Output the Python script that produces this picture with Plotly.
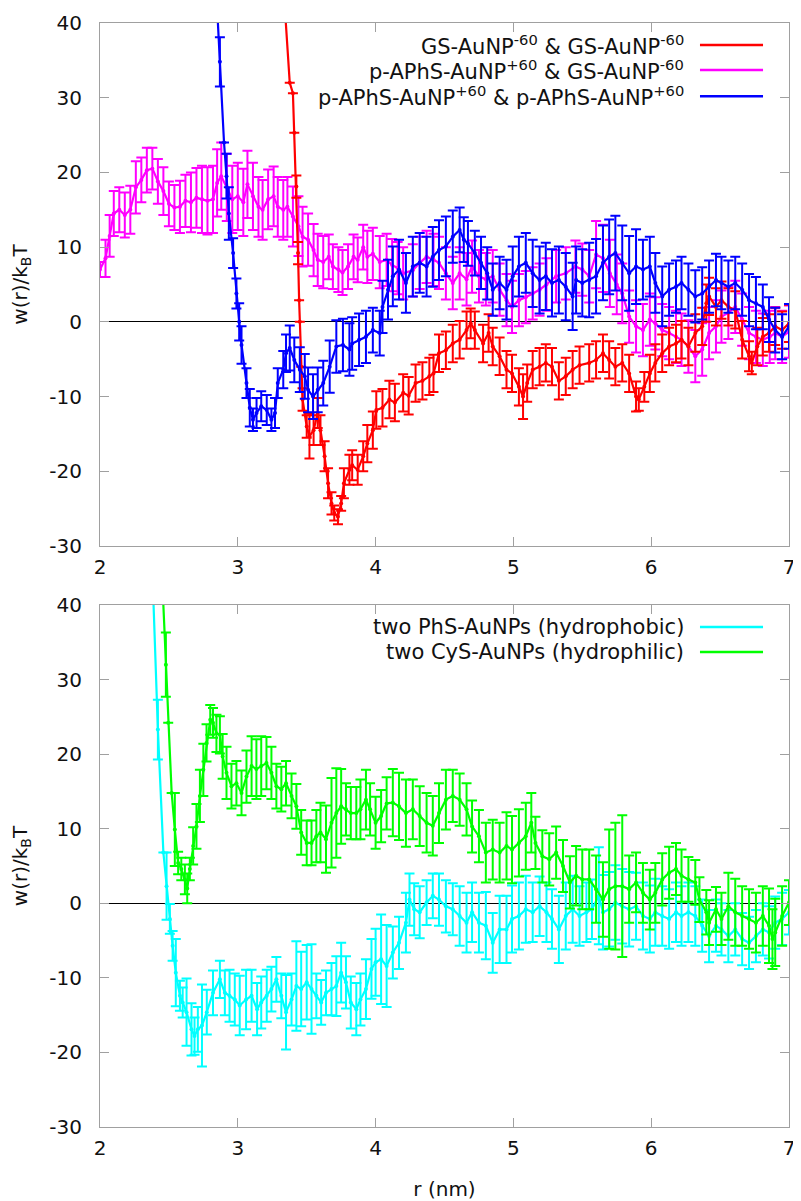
import plotly.graph_objects as go

# ---------------- top panel data ----------------
r_gs_gs = [3.345, 3.377, 3.40, 3.41, 3.425, 3.437, 3.445, 3.45, 3.46, 3.47, 3.50, 3.52, 3.55, 3.58, 3.60, 3.63,
           3.655, 3.68, 3.70, 3.727, 3.75, 3.77, 3.81, 3.83, 3.87, 3.91, 3.94, 3.98, 4.005, 4.05, 4.10, 4.14,
           4.20, 4.24, 4.29, 4.34, 4.39, 4.42, 4.46, 4.51, 4.56, 4.61, 4.66, 4.69, 4.72, 4.78, 4.82, 4.85,
           4.90, 4.95, 4.99, 5.04, 5.07, 5.10, 5.14, 5.19, 5.235, 5.28, 5.33, 5.38, 5.43, 5.48, 5.55, 5.60,
           5.65, 5.695, 5.74, 5.79, 5.84, 5.89, 5.91, 5.95, 5.99, 6.03, 6.08, 6.13, 6.18, 6.22, 6.27, 6.32,
           6.37, 6.40, 6.42, 6.47, 6.51, 6.56, 6.61, 6.66, 6.71, 6.73, 6.77, 6.81, 6.855, 6.90, 6.95, 7.00]
w_gs_gs = [41.0, 32.0, 30.6, 25.3, 18.1, 9.2, 2.9, 0.0, -6.0, -10.4, -14.0, -15.3, -14.5, -12.2, -14.5, -18.0,
           -21.6, -24.3, -25.6, -26.1, -24.3, -21.6, -19.8, -19.2, -19.8, -18.0, -16.3, -14.5, -11.8, -11.5, -10.4, -10.8,
           -9.5, -9.9, -8.2, -7.9, -7.3, -6.9, -4.2, -3.8, -2.9, -2.4, -1.1, -0.2, -1.1, -2.9, -1.5, -3.3,
           -4.6, -6.4, -6.9, -8.7, -10.0, -8.2, -6.4, -6.0, -5.5, -6.0, -7.9, -7.3, -6.4, -5.8, -5.5, -5.1,
           -4.2, -5.1, -6.0, -5.5, -6.9, -10.0, -10.4, -8.7, -6.9, -5.5, -4.2, -3.3, -2.9, -2.4, -3.3, -1.5,
           -0.6, 2.5, 3.4, 2.0, 2.9, 2.0, 1.6, -2.4, -4.6, -5.5, -3.3, -2.0, -1.5, -0.6, -1.1, -0.2]
e_gs_gs = [None, None, None, None, 1.5, 1.5, None, None, None, 1.5, 1.5, 3.0, 2.0, 2.0, 2.0, 2.0,
           2.0, 1.5, 1.0, 1.0, 1.0, 2.0, 2.0, 2.0, 2.0, 2.0, 2.5, 2.5, 2.5, 2.5, 2.5, 2.5,
           2.5, 2.5, 2.5, 2.5, 2.5, 2.5, 2.5, 2.5, 2.5, 2.5, 2.5, 2.0, 2.5, 2.5, 2.5, 2.5,
           2.5, 2.5, 2.5, 2.5, 3.0, 2.5, 2.5, 2.5, 2.5, 2.5, 2.5, 2.5, 2.5, 2.5, 2.5, 2.5,
           2.5, 2.5, 2.5, 2.5, 2.5, 2.0, 1.5, 2.0, 2.5, 2.5, 2.5, 2.5, 2.5, 2.5, 2.5, 2.5,
           2.5, 2.5, 2.5, 2.5, 2.5, 2.5, 2.5, 2.5, 2.0, 1.5, 2.5, 2.5, 2.5, 2.5, 2.5, 2.5]

r_pa_gs = [2.00, 2.04, 2.07, 2.10, 2.14, 2.18, 2.22, 2.26, 2.30, 2.34, 2.38, 2.42, 2.46, 2.50, 2.54, 2.58,
           2.62, 2.66, 2.70, 2.74, 2.78, 2.82, 2.85, 2.88, 2.92, 2.96, 3.00, 3.04, 3.07, 3.11, 3.15, 3.18,
           3.22, 3.26, 3.29, 3.33, 3.36, 3.40, 3.44, 3.47, 3.51, 3.55, 3.58, 3.62, 3.66, 3.69, 3.73, 3.76,
           3.80, 3.84, 3.87, 3.91, 3.94, 3.98, 4.03, 4.08, 4.12, 4.16, 4.20, 4.27, 4.32, 4.37, 4.42, 4.46,
           4.51, 4.56, 4.61, 4.66, 4.70, 4.75, 4.80, 4.85, 4.90, 4.95, 4.99, 5.04, 5.09, 5.14, 5.19, 5.24,
           5.31, 5.38, 5.45, 5.50, 5.55, 5.60, 5.65, 5.70, 5.75, 5.79, 5.84, 5.89, 5.94, 5.99, 6.03, 6.08,
           6.13, 6.18, 6.22, 6.27, 6.32, 6.37, 6.42, 6.47, 6.51, 6.56, 6.61, 6.66, 6.71, 6.76, 6.81, 6.86,
           6.90, 6.95, 7.00]
w_pa_gs = [7.0, 8.5, 11.5, 14.5, 15.0, 14.3, 15.0, 18.0, 19.0, 20.3, 20.5, 18.8, 17.5, 15.8, 15.3, 15.4,
           16.2, 16.0, 16.6, 16.4, 16.2, 16.4, 18.6, 19.5, 18.0, 16.4, 16.8, 16.0, 18.4, 16.8, 15.4, 15.0,
           16.4, 16.8, 15.4, 15.0, 15.4, 14.1, 12.8, 11.4, 11.0, 9.6, 8.3, 8.0, 8.7, 7.4, 7.0, 6.6,
           7.4, 8.7, 8.3, 10.0, 8.7, 9.1, 8.0, 8.3, 7.6, 7.2, 6.5, 6.9, 7.9, 8.7, 8.3, 7.9,
           6.5, 5.2, 6.5, 5.7, 7.4, 6.1, 5.7, 6.1, 4.3, 2.9, 2.0, 2.9, 3.3, 3.8, 4.3, 5.0,
           6.1, 6.5, 7.4, 7.0, 6.1, 9.0, 8.5, 6.5, 5.0, 3.8, 0.7, -0.6, -1.1, 0.3, -0.2, -1.1,
           -1.5, -2.0, -2.4, -3.3, -4.6, -3.7, -1.5, -0.6, 0.7, 1.2, 2.0, 0.3, -1.5, -2.0, -2.4, -2.0,
           -1.5, -2.0, -1.3]
e_pa_gs = [1.0, 2.5, 2.8, 3.0, 3.0, 3.0, 3.2, 3.5, 3.0, 3.0, 2.8, 3.0, 3.2, 3.0, 3.0, 3.5,
           3.5, 4.0, 4.0, 4.5, 4.5, 4.5, 4.5, 4.5, 4.5, 4.5, 4.5, 4.5, 4.5, 4.5, 4.0, 4.0,
           4.0, 4.0, 4.0, 4.0, 4.0, 4.0, 4.0, 4.0, 3.5, 3.5, 3.5, 3.5, 3.0, 3.0, 3.0, 3.0,
           3.0, 3.0, 3.0, 3.0, 3.5, 3.5, 3.5, 3.5, 3.5, 3.5, 3.5, 3.5, 3.5, 3.5, 3.5, 3.5,
           3.5, 3.5, 3.5, 3.5, 3.5, 3.5, 3.5, 3.5, 3.5, 3.5, 3.5, 3.5, 3.5, 3.5, 3.5, 3.5,
           3.5, 3.5, 3.5, 3.5, 3.5, 4.5, 4.5, 4.5, 4.0, 4.0, 3.5, 3.5, 3.5, 3.5, 3.5, 3.5,
           3.5, 3.5, 3.5, 3.5, 3.5, 3.5, 3.5, 3.5, 3.5, 3.5, 3.5, 3.5, 3.5, 3.5, 3.5, 3.5,
           3.5, 3.5, 3.5]

r_pa_pa = [2.85, 2.87, 2.90, 2.918, 2.935, 2.966, 2.99, 3.01, 3.027, 3.063, 3.087, 3.11, 3.136, 3.17, 3.21, 3.244,
           3.27, 3.29, 3.33, 3.35, 3.377, 3.41, 3.45, 3.486, 3.51, 3.546, 3.58, 3.62, 3.667, 3.715, 3.763, 3.81,
           3.83, 3.88, 3.93, 3.98, 4.03, 4.05, 4.09, 4.125, 4.17, 4.22, 4.27, 4.32, 4.37, 4.415, 4.46, 4.51,
           4.56, 4.61, 4.64, 4.67, 4.72, 4.765, 4.81, 4.85, 4.90, 4.95, 4.995, 5.04, 5.09, 5.14, 5.19, 5.235,
           5.28, 5.33, 5.38, 5.43, 5.455, 5.50, 5.55, 5.60, 5.65, 5.695, 5.74, 5.79, 5.84, 5.89, 5.94, 5.99,
           6.03, 6.08, 6.13, 6.18, 6.22, 6.27, 6.32, 6.37, 6.42, 6.47, 6.51, 6.56, 6.61, 6.66, 6.71, 6.76,
           6.81, 6.855, 6.90, 6.95, 7.00]
w_pa_pa = [42.0, 34.8, 24.0, 19.5, 14.5, 9.2, 3.8, 0.0, -3.1, -8.2, -11.5, -13.1, -12.2, -11.3, -11.8, -13.1,
           -12.2, -8.2, -6.4, -4.2, -3.5, -5.1, -6.4, -7.3, -9.1, -10.0, -9.1, -8.2, -6.0, -3.3, -3.1, -3.7,
           -2.9, -2.4, -2.0, -1.1, -1.5, 2.0, 4.3, 6.1, 7.0, 5.2, 7.4, 7.9, 7.4, 8.7, 9.6, 10.1,
           11.4, 12.3, 11.0, 10.5, 9.2, 7.9, 6.5, 4.3, 5.2, 4.3, 6.1, 7.4, 7.9, 6.5, 5.6, 6.1,
           5.2, 5.6, 4.7, 3.4, 5.6, 5.2, 5.6, 6.1, 7.9, 8.7, 9.2, 7.9, 6.5, 7.4, 7.0, 7.4,
           5.2, 3.4, 4.3, 4.7, 5.2, 4.3, 3.4, 3.8, 4.7, 5.6, 5.2, 4.7, 5.2, 4.3, 2.9, 2.5,
           2.0, 0.3, -1.1, -2.0, -0.6]
e_pa_pa = [None, 3.3, None, 3.0, 3.5, 2.0, 2.0, 2.5, 2.5, 2.0, 2.5, 1.5, 2.0, 2.0, 2.0, 1.5,
           2.0, 2.0, 2.5, 2.5, 3.0, 3.0, 3.0, 3.0, 3.0, 3.0, 3.0, 3.0, 3.5, 3.5, 3.5, 3.5,
           3.5, 3.5, 3.5, 3.0, 3.0, 3.5, 4.0, 4.0, 4.0, 4.0, 4.0, 4.0, 4.0, 4.0, 4.0, 4.0,
           3.5, 3.0, 3.0, 3.0, 3.0, 3.5, 3.5, 3.5, 3.5, 4.0, 4.0, 4.0, 4.0, 4.5, 4.5, 4.5,
           4.5, 4.5, 4.5, 4.5, 4.5, 4.5, 5.0, 5.0, 5.0, 5.0, 5.0, 5.0, 5.0, 5.0, 4.0, 4.0,
           4.0, 4.0, 3.5, 3.5, 3.5, 3.5, 3.5, 3.5, 3.5, 3.5, 3.5, 3.5, 3.5, 3.5, 3.5, 3.5,
           3.0, 3.0, 3.0, 3.0, 3.0]

# ---------------- bottom panel data ----------------
r_phs = [2.385, 2.42, 2.46, 2.483, 2.507, 2.527, 2.55, 2.58, 2.60, 2.628, 2.664, 2.686, 2.71, 2.74, 2.775, 2.82,
         2.87, 2.906, 2.94, 2.978, 3.014, 3.06, 3.10, 3.14, 3.17, 3.21, 3.244, 3.28, 3.316, 3.35, 3.39, 3.425,
         3.46, 3.50, 3.535, 3.57, 3.605, 3.64, 3.68, 3.715, 3.75, 3.785, 3.82, 3.86, 3.89, 3.93, 3.97, 4.00,
         4.04, 4.08, 4.125, 4.17, 4.22, 4.246, 4.28, 4.32, 4.37, 4.415, 4.46, 4.51, 4.56, 4.61, 4.66, 4.70,
         4.75, 4.80, 4.85, 4.90, 4.95, 4.99, 5.04, 5.09, 5.14, 5.19, 5.24, 5.28, 5.33, 5.38, 5.43, 5.48,
         5.53, 5.57, 5.62, 5.65, 5.695, 5.74, 5.79, 5.84, 5.89, 5.94, 5.99, 6.03, 6.08, 6.13, 6.18, 6.22,
         6.27, 6.32, 6.37, 6.42, 6.47, 6.51, 6.56, 6.61, 6.66, 6.71, 6.76, 6.81, 6.855, 6.90, 6.95, 7.00]
w_phs = [42.0, 23.3, 6.8, 2.3, -2.1, -5.7, -9.3, -12.4, -13.3, -14.6, -16.9, -17.8, -16.9, -16.4, -14.6, -12.0,
         -10.2, -12.0, -12.4, -12.9, -13.7, -12.9, -12.4, -14.2, -13.3, -12.4, -11.5, -10.2, -12.4, -14.6, -12.9, -11.1,
         -11.5, -10.6, -11.5, -12.4, -13.3, -12.0, -11.5, -11.1, -9.3, -10.6, -13.3, -14.2, -12.9, -11.5, -8.8, -7.9,
         -7.5, -8.4, -6.6, -5.3, -2.6, 0.5, -0.8, -1.2, 0.1, 1.0, 0.5, -0.4, -0.8, -1.7, -2.6, -1.2,
         -2.6, -3.0, -5.3, -3.5, -3.5, -2.1, -1.7, -0.8, -1.2, -0.4, -1.2, -2.1, -3.5, -1.7, -0.8, -1.7,
         -1.2, -0.8, 1.0, -1.2, -0.8, 0.1, -0.4, -0.8, -0.4, -1.7, -2.1, -1.2, -1.7, -2.1, -1.2, -1.7,
         -1.2, -1.7, -3.0, -4.4, -3.0, -3.5, -4.4, -3.5, -4.8, -5.3, -4.4, -3.5, -3.9, -2.6, -2.1, -1.2]
e_phs = [None, 4.0, None, 4.5, 2.0, 2.0, 4.5, 2.0, 2.0, 4.5, 3.5, 2.5, 3.0, 5.5, 3.0, 3.0,
         2.5, 3.0, 3.5, 3.5, 4.0, 4.0, 3.5, 3.5, 3.5, 3.5, 3.0, 3.0, 3.0, 5.0, 3.5, 6.0,
         5.0, 5.0, 6.0, 3.0, 3.0, 3.0, 3.5, 4.0, 4.0, 3.5, 3.5, 3.5, 3.5, 4.0, 4.0, 4.5,
         6.0, 5.5, 3.5, 3.5, 4.0, 3.5, 3.5, 3.5, 3.0, 3.0, 3.5, 3.5, 3.5, 4.0, 4.0, 4.0,
         4.0, 4.5, 4.0, 4.5, 4.5, 4.5, 4.5, 4.5, 4.0, 4.0, 4.0, 4.0, 4.5, 4.5, 4.5, 4.0,
         4.0, 4.0, 6.5, 5.0, 5.0, 5.0, 5.0, 5.0, 4.5, 4.5, 4.5, 4.5, 4.0, 4.0, 4.0, 4.0,
         4.0, 4.0, 3.5, 3.5, 3.5, 3.5, 3.5, 3.5, 3.5, 3.5, 3.5, 3.5, 3.5, 3.5, 3.5, 3.0]

r_cys = [2.455, 2.478, 2.495, 2.52, 2.543, 2.567, 2.59, 2.616, 2.633, 2.652, 2.676, 2.70, 2.725, 2.75, 2.773, 2.80,
         2.82, 2.845, 2.87, 2.89, 2.918, 2.954, 2.99, 3.027, 3.063, 3.10, 3.135, 3.17, 3.208, 3.244, 3.28, 3.316,
         3.35, 3.39, 3.425, 3.46, 3.50, 3.535, 3.57, 3.60, 3.64, 3.68, 3.715, 3.75, 3.785, 3.82, 3.86, 3.89,
         3.93, 3.96, 4.00, 4.04, 4.08, 4.125, 4.17, 4.22, 4.27, 4.32, 4.37, 4.415, 4.46, 4.51, 4.56, 4.61,
         4.66, 4.70, 4.75, 4.80, 4.85, 4.90, 4.95, 4.99, 5.04, 5.09, 5.13, 5.16, 5.21, 5.26, 5.31, 5.36,
         5.41, 5.455, 5.50, 5.55, 5.60, 5.65, 5.695, 5.74, 5.79, 5.84, 5.89, 5.94, 5.99, 6.03, 6.08, 6.13,
         6.18, 6.22, 6.27, 6.32, 6.35, 6.40, 6.42, 6.47, 6.51, 6.56, 6.61, 6.66, 6.71, 6.76, 6.81, 6.855,
         6.88, 6.90, 6.95, 7.00]
w_cys = [42.0, 32.0, 24.2, 14.8, 9.9, 5.4, 4.6, 3.2, 2.0, 4.6, 7.7, 10.3, 14.4, 17.9, 21.5, 24.6,
         24.2, 22.8, 22.6, 19.7, 17.5, 15.7, 16.1, 14.8, 17.0, 18.4, 18.0, 18.4, 18.8, 17.5, 15.7, 15.3,
         16.1, 14.4, 13.0, 9.5, 8.1, 8.1, 9.0, 9.5, 8.6, 10.8, 12.1, 13.0, 12.6, 12.1, 12.1, 12.6,
         13.9, 12.6, 10.8, 11.7, 13.4, 13.5, 13.0, 12.1, 12.6, 11.7, 10.8, 10.4, 12.1, 13.9, 14.4, 13.9,
         12.6, 10.3, 9.0, 6.8, 7.2, 6.8, 7.7, 7.2, 8.1, 9.0, 10.8, 8.1, 6.3, 5.9, 6.8, 5.0,
         2.8, 3.7, 3.2, 3.2, 1.9, 0.5, 1.9, 2.3, 2.3, 1.9, 2.8, 1.4, 0.5, 1.4, 3.2, 4.1,
         4.6, 3.7, 3.2, 2.8, 0.5, -1.2, -2.6, -0.8, -2.1, -0.4, -1.2, -1.7, -2.1, -2.6, -1.7, -3.0,
         -4.8, -3.9, -1.7, 0.1]
e_cys = [None, 4.3, None, None, 4.9, 1.5, 1.5, 2.0, 2.0, 1.5, 2.5, 3.0, 3.5, 3.5, 2.5, 2.0,
         2.0, 2.5, 2.5, 3.0, 3.5, 3.0, 3.0, 3.0, 3.5, 4.0, 4.0, 4.0, 3.5, 3.5, 3.0, 3.0,
         3.0, 3.0, 3.0, 3.0, 3.0, 3.0, 3.5, 4.0, 4.5, 6.0, 6.0, 5.0, 3.5, 3.5, 3.5, 4.0,
         4.0, 3.5, 3.5, 3.5, 3.5, 4.5, 4.5, 4.5, 4.0, 4.0, 4.0, 4.0, 4.0, 4.0, 3.5, 3.5,
         3.5, 3.5, 3.5, 4.0, 4.0, 4.0, 4.5, 4.5, 4.5, 4.5, 4.0, 3.5, 3.5, 3.5, 3.5, 3.5,
         3.5, 4.0, 4.0, 4.0, 4.5, 5.0, 8.0, 8.5, 9.5, 4.5, 4.0, 4.0, 4.0, 4.0, 3.5, 3.5,
         3.5, 3.5, 3.0, 3.0, 3.0, 3.0, 3.0, 3.0, 3.5, 4.5, 4.5, 4.0, 4.0, 4.0, 4.0, 5.0,
         4.0, 4.5, 4.0, 3.0]

x_ticks = [2, 3, 4, 5, 6, 7]
y_ticks = [-30, -20, -10, 0, 10, 20, 30, 40]
y_tick_text = ["-30", "-20", "-10", "0", "10", "20", "30", "40"]

top_series = [
    ("GS-AuNP<sup>-60</sup> & GS-AuNP<sup>-60</sup>", r_gs_gs, w_gs_gs, e_gs_gs, "#ff0000"),
    ("p-APhS-AuNP<sup>+60</sup> & GS-AuNP<sup>-60</sup>", r_pa_gs, w_pa_gs, e_pa_gs, "#ff00ff"),
    ("p-APhS-AuNP<sup>+60</sup> & p-APhS-AuNP<sup>+60</sup>", r_pa_pa, w_pa_pa, e_pa_pa, "#0000ff"),
]
bottom_series = [
    ("two PhS-AuNPs (hydrophobic)", r_phs, w_phs, e_phs, "#00ffff"),
    ("two CyS-AuNPs (hydrophilic)", r_cys, w_cys, e_cys, "#00ff00"),
]

FONT = "DejaVu Sans"
TXT = "#111111"
fig = go.Figure()

draw_order_top = [1, 0, 2]  # magenta below, red, then blue on top
for idx in draw_order_top:
    name, r, w, e, c = top_series[idx]
    fig.add_trace(go.Scatter(
        x=r, y=w, mode="lines+markers", name=name, showlegend=False,
        line=dict(color=c, width=2.2), marker=dict(color=c, size=4),
        error_y=dict(type="data", array=e, visible=True, color=c, thickness=2, width=5),
        xaxis="x", yaxis="y"))

for name, r, w, e, c in bottom_series:
    fig.add_trace(go.Scatter(
        x=r, y=w, mode="lines+markers", name=name, showlegend=False,
        line=dict(color=c, width=2.2), marker=dict(color=c, size=4),
        error_y=dict(type="data", array=e, visible=True, color=c, thickness=2, width=5),
        xaxis="x2", yaxis="y2"))

axis_common = dict(
    showline=True, linecolor="#a0a0a0", linewidth=1, mirror="ticks",
    ticks="inside", ticklen=9, tickcolor="#a0a0a0", tickwidth=1,
    showgrid=False, tickfont=dict(family=FONT, size=20, color=TXT), automargin=False,
)

xa = dict(axis_common, range=[2, 7], tickvals=x_ticks, ticklabelstandoff=3, zeroline=False,
          ticklabeloverflow="allow")
ya = dict(axis_common, range=[-30, 40], tickvals=y_ticks, ticktext=y_tick_text,
          zeroline=True, zerolinecolor="#000000", zerolinewidth=1.2, ticklabelstandoff=13,
          title=dict(text="w(r)/k<sub>B</sub>T", font=dict(family=FONT, size=20, color=TXT), standoff=19))

top_dom = [0.5263, 1.0]
bot_dom = [0.0, 0.4728]

# the page body adds an 8px offset, so the figure is 8px smaller than the window
fig.update_layout(
    width=793, height=1193,
    margin=dict(l=92, r=12, t=15, b=74, autoexpand=False),
    paper_bgcolor="white", plot_bgcolor="white",
    font=dict(family=FONT, size=20, color=TXT),
    xaxis=dict(xa, domain=[0, 1], anchor="y"),
    yaxis=dict(ya, domain=top_dom, anchor="x"),
    xaxis2=dict(xa, domain=[0, 1], anchor="y2",
                title=dict(text="r (nm)", font=dict(family=FONT, size=20, color=TXT), standoff=24)),
    yaxis2=dict(ya, domain=bot_dom, anchor="x2"),
)

# legends: right-aligned text with a line sample on the right, as in the original
legend_rows = [(top_series, "x domain", "y domain"), (bottom_series, "x2 domain", "y2 domain")]
row_pos = [0.958, 0.910, 0.860]
for series, xr, yr in legend_rows:
    for i, (name, r, w, e, c) in enumerate(series):
        fig.add_annotation(text=name, xref=xr, yref=yr, x=0.8505, y=row_pos[i],
                           xanchor="right", yanchor="middle", showarrow=False,
                           font=dict(family=FONT, size=21, color=TXT))
        fig.add_shape(type="line", xref=xr, yref=yr, x0=0.8708, x1=0.9623,
                      y0=row_pos[i], y1=row_pos[i], line=dict(color=c, width=2.5))

fig.write_html("out.html")
